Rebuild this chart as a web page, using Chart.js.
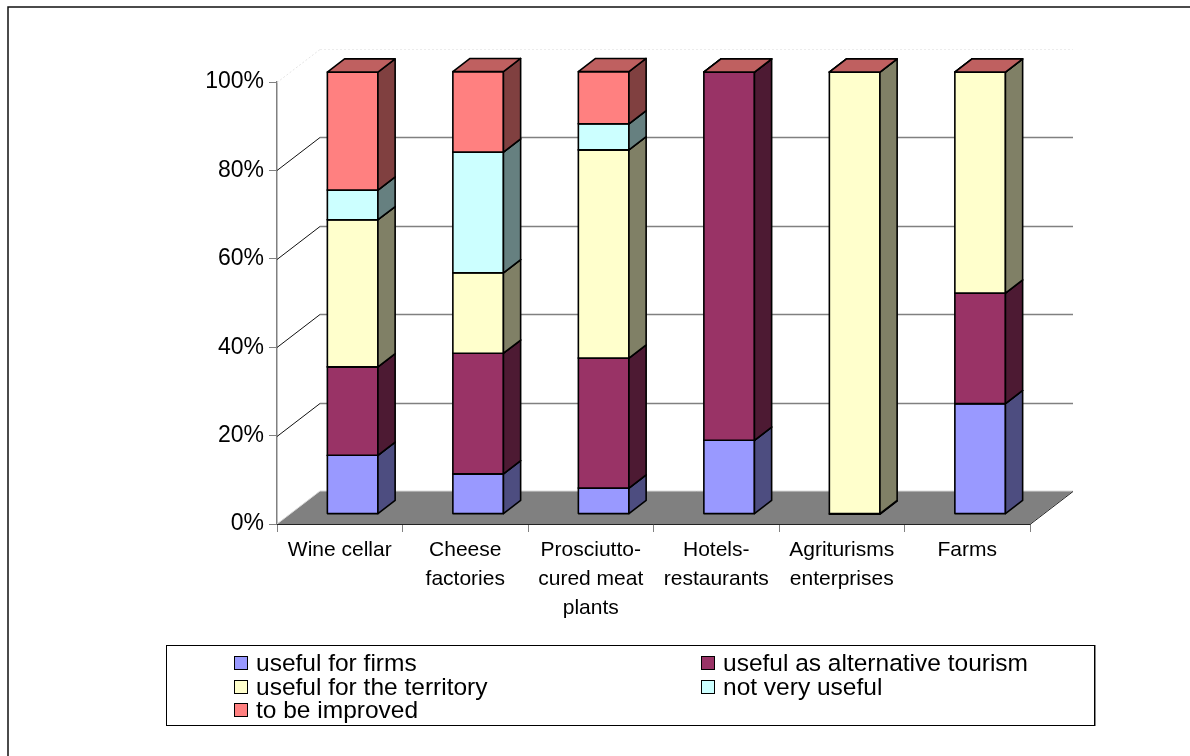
<!DOCTYPE html>
<html>
<head>
<meta charset="utf-8">
<script src="https://cdn.jsdelivr.net/npm/chart.js@4/dist/chart.umd.min.js"></script>
<style>
  html, body { margin: 0; padding: 0; background: #fff; overflow: hidden; }
  #wrap { position: relative; width: 1190px; height: 756px; }
  #chart { position: absolute; left: 0; top: 0; }
  #legend {
    position: absolute; left: 166px; top: 645px; width: 927px; height: 79px;
    border: 1.5px solid #000; box-shadow: 1px 0 0 #888;
    font-family: "Liberation Sans", Arial, sans-serif; font-size: 24.5px; color: #000;
  }
  #legend .item { position: absolute; display: flex; align-items: center; height: 24px; white-space: nowrap; }
  #legend .box { width: 12px; height: 12px; border: 1.5px solid #000; margin-right: 8px; }
</style>
</head>
<body>
<div id="wrap">
  <canvas id="chart" width="1190" height="756"></canvas>
  <div id="legend"></div>
</div>
<script>
// Data
const categories = [
  ['Wine cellar'],
  ['Cheese', 'factories'],
  ['Prosciutto-', 'cured meat', 'plants'],
  ['Hotels-', 'restaurants'],
  ['Agriturisms', 'enterprises'],
  ['Farms']
];
const seriesNames = ['useful for firms', 'useful as alternative tourism', 'useful for the territory', 'not very useful', 'to be improved'];
const usefulForFirms   = [13.3,  9.1,  5.9, 16.7,   0, 25];
const alternativeTour  = [20.0, 27.3, 29.4, 83.3,   0, 25];
const forTerritory     = [33.3, 18.2, 47.1,    0, 100, 50];
const notVeryUseful    = [ 6.7, 27.3,  5.9,    0,   0,  0];
const toBeImproved     = [26.7, 18.2, 11.8,    0,   0,  0];
const yTicks = [0, 20, 40, 60, 80, 100];

const seriesValues = [usefulForFirms, alternativeTour, forTerritory, notVeryUseful, toBeImproved];
const seriesColors = ['#9999FF', '#993366', '#FFFFCC', '#CCFFFF', '#FF8080'];

// 3D look
const DEPTH_X = 43, DEPTH_Y = -33;   // floor depth
const BAR_FRONT = 0.3, BAR_BACK = 0.7;

function shade(hex, k) {
  const n = parseInt(hex.slice(1), 16);
  const r = Math.round(((n >> 16) & 255) * k), g = Math.round(((n >> 8) & 255) * k), b = Math.round((n & 255) * k);
  return `rgb(${r},${g},${b})`;
}

function poly(ctx, pts, fill, stroke, lw) {
  ctx.beginPath();
  ctx.moveTo(pts[0][0], pts[0][1]);
  for (let i = 1; i < pts.length; i++) ctx.lineTo(pts[i][0], pts[i][1]);
  ctx.closePath();
  if (fill) { ctx.fillStyle = fill; ctx.fill(); }
  if (stroke) { ctx.strokeStyle = stroke; ctx.lineWidth = lw || 1; ctx.stroke(); }
}

const excel3d = {
  id: 'excel3d',
  beforeDatasetsDraw(chart) {
    const { ctx, chartArea: a, scales: { x, y } } = chart;
    ctx.save();
    const y0 = y.getPixelForValue(0);

    // floor
    poly(ctx, [[a.left, y0], [a.right, y0], [a.right + DEPTH_X, y0 + DEPTH_Y], [a.left + DEPTH_X, y0 + DEPTH_Y]], '#808080');
    ctx.lineWidth = 1;
    ctx.strokeStyle = '#d8d8d8';
    ctx.beginPath();
    ctx.moveTo(a.left, y0); ctx.lineTo(a.left + DEPTH_X, y0 + DEPTH_Y); ctx.lineTo(a.right + DEPTH_X, y0 + DEPTH_Y);
    ctx.stroke();
    ctx.strokeStyle = '#222';
    ctx.beginPath();
    ctx.moveTo(a.left, y0 + 0.5); ctx.lineTo(a.right, y0 + 0.5); ctx.lineTo(a.right + DEPTH_X, y0 + DEPTH_Y + 0.5);
    ctx.stroke();

    // wall gridlines
    yTicks.forEach(v => {
      if (v === 0) return;
      const py = Math.round(y.getPixelForValue(v)) + 0.5;
      const top = v === 100;
      ctx.strokeStyle = top ? '#e4e4e4' : '#111';
      ctx.lineWidth = 1;
      ctx.setLineDash(top ? [2, 2] : []);
      ctx.beginPath();
      ctx.moveTo(a.left, py); ctx.lineTo(a.left + DEPTH_X, py + DEPTH_Y);
      ctx.stroke();
      ctx.strokeStyle = top ? '#ececec' : '#808080';
      ctx.lineWidth = top ? 1 : 1.5;
      ctx.beginPath();
      ctx.moveTo(a.left + DEPTH_X, py + DEPTH_Y); ctx.lineTo(a.right + DEPTH_X, py + DEPTH_Y);
      ctx.stroke();
    });
    ctx.setLineDash([]);

    // bars, bottom series first
    const ox = DEPTH_X * BAR_FRONT, oy = DEPTH_Y * BAR_FRONT;
    const sx = DEPTH_X * (BAR_BACK - BAR_FRONT), sy = DEPTH_Y * (BAR_BACK - BAR_FRONT);
    chart.data.datasets.forEach((ds, i) => {
      const meta = chart.getDatasetMeta(i);
      const col = ds.backgroundColor;
      meta.data.forEach(bar => {
        const p = bar.getProps(['x', 'y', 'base', 'width'], true);
        const l = p.x - p.width / 2 + ox, r = p.x + p.width / 2 + ox;
        const t = Math.min(p.y, p.base) + oy, b = Math.max(p.y, p.base) + oy;
        ctx.lineJoin = 'round';
        if (b - t > 0.5) {
          poly(ctx, [[l, t], [r, t], [r, b], [l, b]], col, '#000', 1.6);
          poly(ctx, [[r, t], [r + sx, t + sy], [r + sx, b + sy], [r, b]], shade(col, 0.5), '#000', 1.6);
        }
        poly(ctx, [[l, t], [r, t], [r + sx, t + sy], [l + sx, t + sy]], shade(col, 0.75), '#000', 1.6);
      });
    });
    ctx.restore();
    return false;
  },
  afterDraw(chart) {
    const ctx = chart.ctx;
    ctx.save();
    ctx.strokeStyle = '#111';
    ctx.lineWidth = 1.5;
    ctx.strokeRect(8, 7, 3000, 3000);
    ctx.restore();
  }
};

Chart.defaults.font.family = '"Liberation Sans", Arial, sans-serif';
Chart.defaults.color = '#000';

new Chart(document.getElementById('chart'), {
  type: 'bar',
  data: {
    labels: categories,
    datasets: seriesNames.map((name, i) => ({
      label: name,
      data: seriesValues[i],
      backgroundColor: seriesColors[i],
      barPercentage: 0.403,
      categoryPercentage: 1
    }))
  },
  options: {
    responsive: false,
    animation: false,
    layout: { padding: { left: 197, top: 82, right: 160, bottom: 132 } },
    plugins: { legend: { display: false }, tooltip: { enabled: false } },
    scales: {
      x: {
        stacked: true,
        afterFit: s => { s.height = 100; },
        grid: { drawOnChartArea: false, tickLength: 8, color: '#808080', offset: true },
        border: { display: false },
        ticks: { autoSkip: false, maxRotation: 0, padding: 4, font: { size: 21, lineHeight: 1.38 } }
      },
      y: {
        stacked: true,
        min: 0, max: 100,
        afterFit: s => { s.width = 80; },
        afterBuildTicks: s => { s.ticks = yTicks.map(v => ({ value: v })); },
        grid: { drawOnChartArea: false, tickLength: 8, color: '#808080' },
        border: { color: '#808080', width: 1.5 },
        ticks: { padding: 5, font: { size: 23 }, callback: v => v + '%' }
      }
    }
  },
  plugins: [excel3d]
});

// Legend (two columns, as in the original)
const legend = document.getElementById('legend');
const legendPos = [[67, 5], [534, 5], [67, 28.5], [534, 28.5], [67, 52]];
seriesNames.forEach((name, i) => {
  const item = document.createElement('div');
  item.className = 'item';
  item.style.left = legendPos[i][0] + 'px';
  item.style.top = legendPos[i][1] + 'px';
  item.innerHTML = `<span class="box" style="background:${seriesColors[i]}"></span><span>${name}</span>`;
  legend.appendChild(item);
});
</script>
</body>
</html>
